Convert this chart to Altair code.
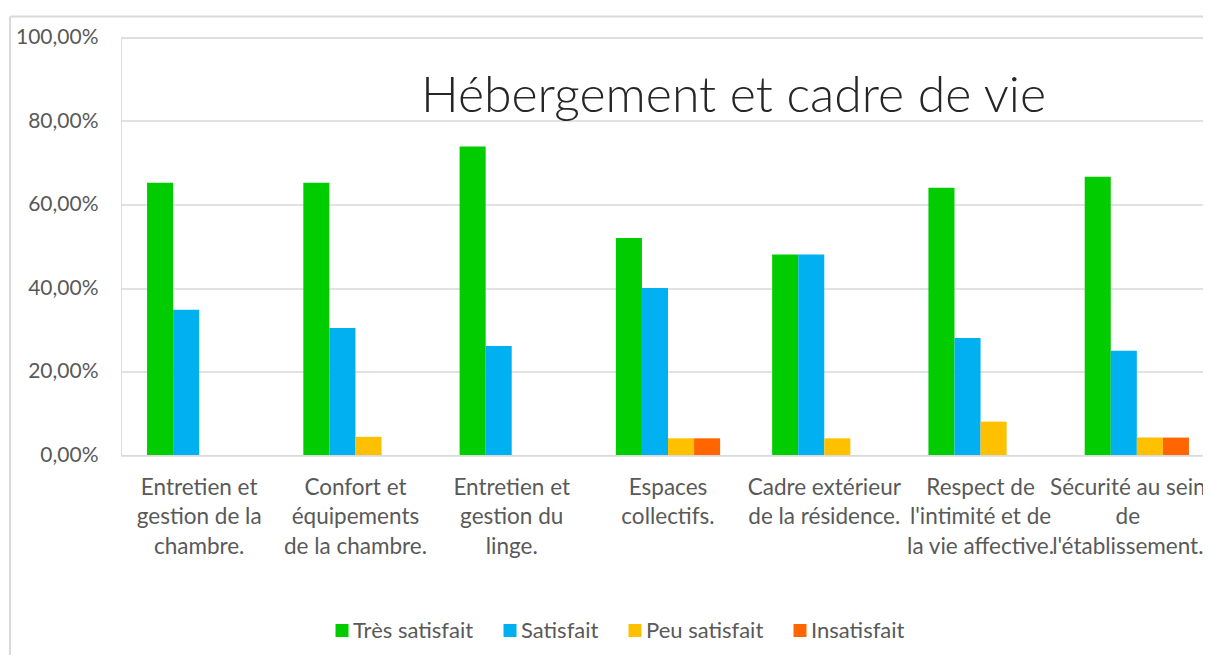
import altair as alt
import pandas as pd

categories = [
    "Entretien et|gestion de la|chambre.",
    "Confort et|équipements|de la chambre.",
    "Entretien et|gestion du|linge.",
    "Espaces|collectifs.",
    "Cadre extérieur|de la résidence.",
    "Respect de|l'intimité et de|la vie affective.",
    "Sécurité au sein|de|l'établissement.",
]
series = ["Très satisfait", "Satisfait", "Peu satisfait", "Insatisfait"]
colors = ["#00CC00", "#00B0F0", "#FFC000", "#FF6600"]

tres_satisfait = [0.6522, 0.6522, 0.7391, 0.52, 0.48, 0.64, 0.6667]
satisfait = [0.3478, 0.3043, 0.2609, 0.40, 0.48, 0.28, 0.25]
peu_satisfait = [0.0, 0.0435, 0.0, 0.04, 0.04, 0.08, 0.0417]
insatisfait = [0.0, 0.0, 0.0, 0.04, 0.0, 0.0, 0.0417]

y_ticks = [0, 0.2, 0.4, 0.6, 0.8, 1.0]
title_text = "Hébergement et cadre de vie"

rows = []
for s, vals in zip(series, [tres_satisfait, satisfait, peu_satisfait, insatisfait]):
    for c, v in zip(categories, vals):
        rows.append({"categorie": c, "serie": s, "valeur": v})
df = pd.DataFrame(rows)

FONT = "Lato"
GRAY = "#595959"

bars = alt.Chart(df).mark_bar().encode(
    x=alt.X("categorie:N", sort=categories,
            scale=alt.Scale(paddingInner=0.333, paddingOuter=0.1667,
                            range=[0, 1094], round=False),
            axis=alt.Axis(title=None, labelAngle=0, domain=False, ticks=False,
                          labelExpr="split(datum.label, '|')",
                          labelFont=FONT, labelFontSize=22.5, labelColor=GRAY,
                          labelLineHeight=29.5, labelPadding=21,
                          labelOffset={"condition": {"test": "indexof(datum.value, 'Sécurité') >= 0",
                                                     "value": -9},
                                       "value": 0},
                          labelLimit=300, labelOverlap=False)),
    xOffset=alt.XOffset("serie:N", sort=series,
                        scale=alt.Scale(paddingInner=0, paddingOuter=0, round=False)),
    y=alt.Y("valeur:Q", scale=alt.Scale(domain=[0, 1], nice=False),
            axis=alt.Axis(title=None, values=y_ticks, domain=False, ticks=False,
                          labelExpr="replace(format(datum.value, '.2%'), '.', ',')",
                          labelFont=FONT, labelFontSize=21, labelColor=GRAY,
                          labelPadding=23, gridColor="#D9D9D9", gridWidth=1.5)),
    color=alt.Color("serie:N", sort=series,
                    scale=alt.Scale(domain=series, range=colors),
                    legend=alt.Legend(title=None, orient="none", direction="horizontal",
                                      legendX=210, legendY=582,
                                      symbolType="square", symbolSize=169,
                                      symbolStrokeWidth=0, labelFont=FONT,
                                      labelFontSize=22, labelColor=GRAY,
                                      labelOffset=0, columnPadding=25, padding=0)),
)

title_df = pd.DataFrame({"t": [title_text]})
title = alt.Chart(title_df).mark_text(
    font=FONT, fontSize=50, fontWeight=300, color="#262626",
    align="center", baseline="alphabetic"
).encode(text="t:N", x=alt.value(612.5), y=alt.value(74.5))

frame_left = alt.Chart(title_df).mark_rule(color="#D9D9D9", strokeWidth=2).encode(
    x=alt.value(-111), y=alt.value(-21), y2=alt.value(640))
frame_top = alt.Chart(title_df).mark_rule(color="#D9D9D9", strokeWidth=2).encode(
    x=alt.value(-111), x2=alt.value(1200), y=alt.value(-21))

chart = alt.layer(frame_left, frame_top, bars, title).properties(
    width=1082, height=417.5,
    autosize=alt.AutoSizeParams(type="none"),
    padding={"left": 113, "top": 29.5, "right": 0, "bottom": 200},
).configure_view(stroke=None).configure(background="white")

chart.save("out.html", embed_options={"renderer": "svg", "actions": False})
